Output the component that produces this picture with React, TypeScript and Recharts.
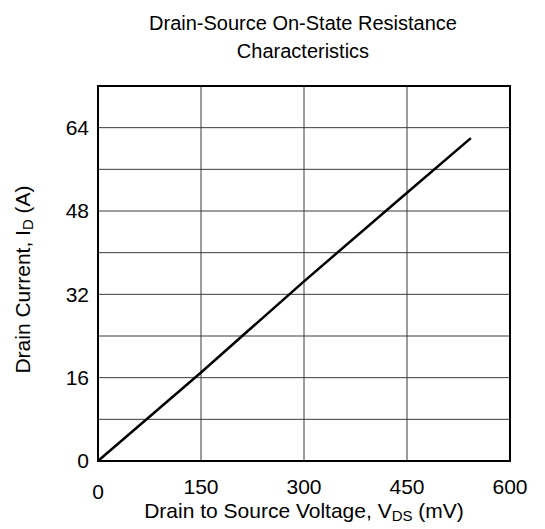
import { CartesianGrid, Label, Line, LineChart, ReferenceArea, XAxis, YAxis } from 'recharts'

// values
const vdsMv = [0, 150, 300, 450, 543]
const idAmps = [0, 17, 34.5, 51.5, 62]
const xTicks = [0, 150, 300, 450, 600]
const yTicks = [0, 8, 16, 24, 32, 40, 48, 56, 64, 72]
const yLabelled = [0, 16, 32, 48, 64]
const titleLines = ['Drain-Source On-State Resistance', 'Characteristics']

const data = vdsMv.map((vds, i) => ({ vds, id: idAmps[i] }))

const FONT = '"Liberation Sans", Arial, sans-serif'
const FS = 21

function XTick({ x, y, payload }: any) {
  // the origin label sits a bit lower than the others
  const drop = payload.value === 0 ? 5 : 0
  return (
    <text x={x} y={y + drop} dy="0.71em" textAnchor="middle" fontSize={FS} fill="#000" fontFamily={FONT}>
      {payload.value}
    </text>
  )
}

function XAxisTitle({ viewBox }: any) {
  const cx = viewBox.x + viewBox.width / 2
  return (
    <text x={cx} y={518} textAnchor="middle" fontSize={FS} fill="#000" fontFamily={FONT}>
      Drain to Source Voltage, V
      <tspan fontSize={15} dy={3}>DS</tspan>
      <tspan dy={-3}> (mV)</tspan>
    </text>
  )
}

function YAxisTitle({ viewBox }: any) {
  const cy = viewBox.y + viewBox.height / 2 + 6
  return (
    <text x={0} y={0} transform={`translate(30, ${cy}) rotate(-90)`} textAnchor="middle" fontSize={FS} fill="#000" fontFamily={FONT}>
      Drain Current, I
      <tspan fontSize={15} dy={3}>D</tspan>
      <tspan dy={-3}> (A)</tspan>
    </text>
  )
}

export default function App() {
  return (
    <div style={{ position: 'absolute', left: 0, top: 0, width: 545, height: 529, background: '#fff', fontFamily: FONT }}>
      <div style={{ position: 'absolute', left: 103, top: 9, width: 400, textAlign: 'center', fontSize: 20, lineHeight: '28px', color: '#000' }}>
        {titleLines.map((t) => (
          <div key={t}>{t}</div>
        ))}
      </div>
      <LineChart width={545} height={529} data={data} margin={{ top: 86, right: 35, bottom: 0, left: 0 }}>
        <CartesianGrid stroke="#3a3a3a" strokeWidth={1} />
        <XAxis
          dataKey="vds"
          type="number"
          domain={[0, 600]}
          ticks={xTicks}
          allowDataOverflow
          axisLine={false}
          tickLine={false}
          tickSize={8}
          tickMargin={10}
          height={68}
          tick={<XTick />}
        >
          <Label content={<XAxisTitle />} />
        </XAxis>
        <YAxis
          type="number"
          domain={[0, 72]}
          ticks={yTicks}
          allowDataOverflow
          axisLine={false}
          tickLine={false}
          tickSize={6}
          tickMargin={3}
          width={98}
          interval={0}
          tickFormatter={(v: number) => (yLabelled.includes(v) ? String(v) : '')}
          tick={{ fontSize: FS, fill: '#000', fontFamily: FONT }}
        >
          <Label content={<YAxisTitle />} />
        </YAxis>
        <ReferenceArea x1={0} x2={600} y1={0} y2={72} fill="none" stroke="#000" strokeWidth={2} ifOverflow="visible" />
        <Line type="linear" dataKey="id" stroke="#000" strokeWidth={2.5} dot={false} isAnimationActive={false} />
      </LineChart>
    </div>
  )
}
